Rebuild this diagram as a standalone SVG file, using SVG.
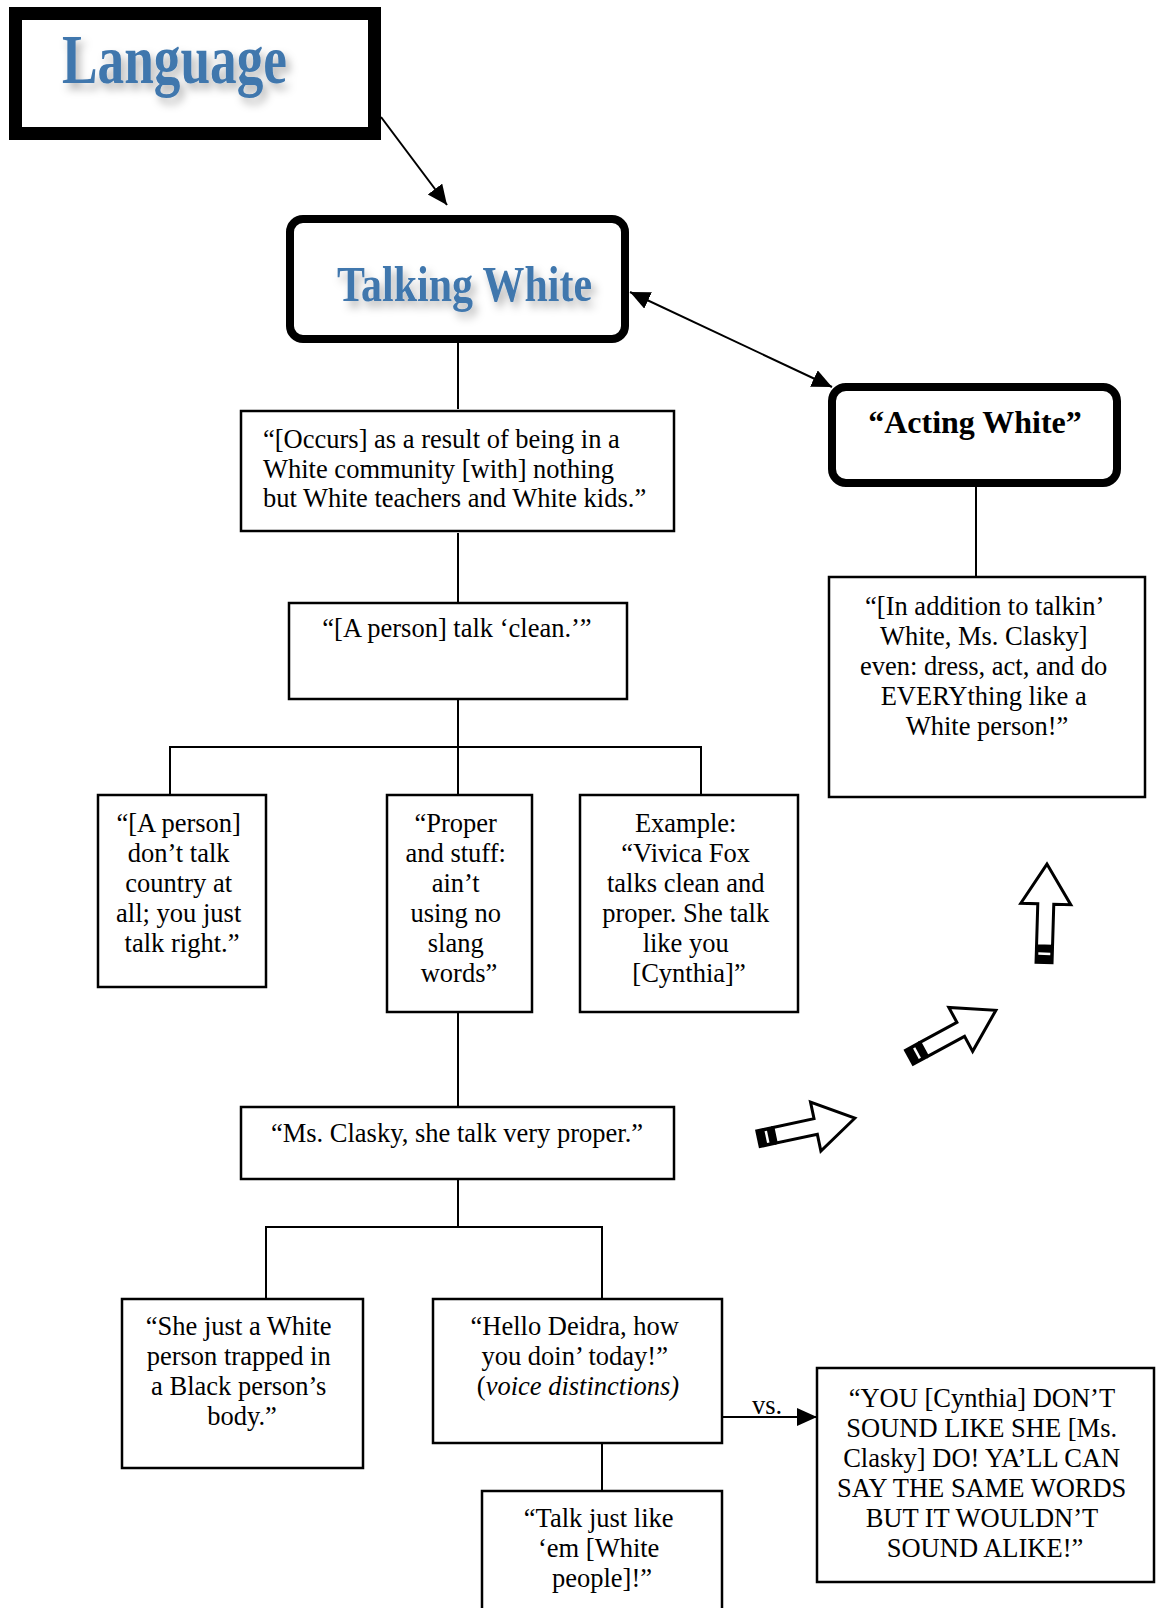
<svg xmlns="http://www.w3.org/2000/svg" xmlns:xlink="http://www.w3.org/1999/xlink" width="1156" height="1608" viewBox="0 0 1156 1608">
  <style>
    .box { fill: #fff; stroke: #000; stroke-width: 2.5; }
    .thick { fill: #fff; stroke: #000; stroke-width: 8; }
    .wire { fill: none; stroke: #000; stroke-width: 2; }
    .t { font-family: "Liberation Serif", "Times New Roman", serif; font-size: 26.5px; fill: #000; }
    .c { text-anchor: middle; }
    .title { font-family: "Liberation Serif", "Times New Roman", serif; font-size: 32px; font-weight: bold; fill: #000; }
    .head { font-family: "Liberation Serif", "Times New Roman", serif; font-weight: bold; fill: #4077AD; }
    .blk { fill: #fff; stroke: #000; stroke-width: 3; stroke-linejoin: miter; }
  </style>
  <defs>
    <filter id="shadow" x="-10%" y="-20%" width="130%" height="160%">
      <feDropShadow dx="4" dy="6" stdDeviation="4" flood-color="#000" flood-opacity="0.3"/>
    </filter>
    <marker id="tip" markerUnits="userSpaceOnUse" markerWidth="22" markerHeight="20" refX="20" refY="9" orient="auto-start-reverse">
      <path d="M0,0 L20,9 L0,18 Z" fill="#000"/>
    </marker>
    <!-- striped block arrow, tail at origin, pointing along +x -->
    <g id="striped">
      <rect x="0" y="-9.5" width="18" height="19" fill="#000"/>
      <rect x="9" y="-6" width="2.5" height="12" fill="#fff"/>
      <path class="blk" d="M18,-8 L60,-8 L60,-25 L100,0 L60,25 L60,8 L18,8 Z"/>
    </g>
  </defs>
  <rect width="1156" height="1608" fill="#fff"/>

  <g id="connectors">
    <line class="wire" x1="381" y1="117" x2="447" y2="205" marker-end="url(#tip)"/>
    <line class="wire" x1="630" y1="292" x2="832" y2="387" marker-start="url(#tip)" marker-end="url(#tip)"/>
    <line class="wire" x1="458" y1="343" x2="458" y2="409"/>
    <line class="wire" x1="458" y1="533" x2="458" y2="603"/>
    <path class="wire" d="M458,699 V795 M170,795 V747 H701 V795"/>
    <line class="wire" x1="458" y1="1012" x2="458" y2="1107"/>
    <path class="wire" d="M458,1179 V1227 M266,1299 V1227 H602 V1299"/>
    <line class="wire" x1="602" y1="1443" x2="602" y2="1491"/>
    <line class="wire" x1="976" y1="487" x2="976" y2="577"/>
    <line class="wire" x1="722" y1="1417" x2="817" y2="1417" marker-end="url(#tip)"/>
    <text class="t" x="752" y="1414">vs.</text>
    <use xlink:href="#striped" transform="translate(757,1139) rotate(-12)"/>
    <use xlink:href="#striped" transform="translate(908,1058) rotate(-28.5)"/>
    <use xlink:href="#striped" transform="translate(1044,964) rotate(-88.3)"/>
  </g>

  <g id="language">
    <rect x="15.5" y="13.5" width="359" height="120" fill="#fff" stroke="#000" stroke-width="13"/>
    <text class="head" x="62" y="83" font-size="69" textLength="225" lengthAdjust="spacingAndGlyphs" filter="url(#shadow)">Language</text>
  </g>

  <g id="talking-white">
    <rect class="thick" x="290" y="219" width="335" height="120" rx="13"/>
    <text class="head" x="337" y="301" font-size="50" textLength="255" lengthAdjust="spacingAndGlyphs" filter="url(#shadow)">Talking White</text>
  </g>

  <g id="acting-white">
    <rect class="thick" x="832" y="387" width="285" height="96" rx="14"/>
    <text class="title c" x="975" y="433">“Acting White”</text>
  </g>

  <g id="acting-quote">
    <rect class="box" x="829" y="577" width="316" height="220" stroke-width="3"/>
    <text class="t c">
      <tspan x="987" y="615">“[In addition to talkin’</tspan>
      <tspan x="987" y="645">White, Ms. Clasky]</tspan>
      <tspan x="987" y="675">even: dress, act, and do</tspan>
      <tspan x="987" y="705">EVERYthing like a</tspan>
      <tspan x="987" y="735">White person!”</tspan>
    </text>
  </g>

  <g id="occurs">
    <rect class="box" x="241" y="411" width="433" height="120" stroke-width="4"/>
    <text class="t">
      <tspan x="263" y="448">“[Occurs] as a result of being in a</tspan>
      <tspan x="263" y="478">White community [with] nothing</tspan>
      <tspan x="263" y="507">but White teachers and White kids.”</tspan>
    </text>
  </g>

  <g id="talk-clean">
    <rect class="box" x="289" y="603" width="338" height="96"/>
    <text class="t c" x="457" y="637">“[A person] talk ‘clean.’”</text>
  </g>

  <g id="talk-right">
    <rect class="box" x="98" y="795" width="168" height="192"/>
    <text class="t c">
      <tspan x="182" y="832">“[A person]</tspan>
      <tspan x="182" y="862">don’t talk</tspan>
      <tspan x="182" y="892">country at</tspan>
      <tspan x="182" y="922">all; you just</tspan>
      <tspan x="182" y="952">talk right.”</tspan>
    </text>
  </g>

  <g id="no-slang">
    <rect class="box" x="387" y="795" width="145" height="217"/>
    <text class="t c">
      <tspan x="459" y="832">“Proper</tspan>
      <tspan x="459" y="862">and stuff:</tspan>
      <tspan x="459" y="892">ain’t</tspan>
      <tspan x="459" y="922">using no</tspan>
      <tspan x="459" y="952">slang</tspan>
      <tspan x="459" y="982">words”</tspan>
    </text>
  </g>

  <g id="vivica">
    <rect class="box" x="580" y="795" width="218" height="217"/>
    <text class="t c">
      <tspan x="689" y="832">Example:</tspan>
      <tspan x="689" y="862">“Vivica Fox</tspan>
      <tspan x="689" y="892">talks clean and</tspan>
      <tspan x="689" y="922">proper. She talk</tspan>
      <tspan x="689" y="952">like you</tspan>
      <tspan x="689" y="982">[Cynthia]”</tspan>
    </text>
  </g>

  <g id="clasky">
    <rect class="box" x="241" y="1107" width="433" height="72"/>
    <text class="t c" x="457" y="1142">“Ms. Clasky, she talk very proper.”</text>
  </g>

  <g id="trapped">
    <rect class="box" x="122" y="1299" width="241" height="169"/>
    <text class="t c">
      <tspan x="242" y="1335">“She just a White</tspan>
      <tspan x="242" y="1365">person trapped in</tspan>
      <tspan x="242" y="1395">a Black person’s</tspan>
      <tspan x="242" y="1425">body.”</tspan>
    </text>
  </g>

  <g id="hello">
    <rect class="box" x="433" y="1299" width="289" height="144"/>
    <text class="t c">
      <tspan x="578" y="1335">“Hello Deidra, how</tspan>
      <tspan x="578" y="1365">you doin’ today!”</tspan>
      <tspan x="578" y="1395">(<tspan font-style="italic">voice distinctions)</tspan></tspan>
    </text>
  </g>

  <g id="talk-like">
    <rect class="box" x="482" y="1491" width="240" height="140"/>
    <text class="t c">
      <tspan x="602" y="1527">“Talk just like</tspan>
      <tspan x="602" y="1557">‘em [White</tspan>
      <tspan x="602" y="1587">people]!”</tspan>
    </text>
  </g>

  <g id="sound-alike">
    <rect class="box" x="817" y="1368" width="337" height="214"/>
    <text class="t c">
      <tspan x="985" y="1407">“YOU [Cynthia] DON’T</tspan>
      <tspan x="985" y="1437">SOUND LIKE SHE [Ms.</tspan>
      <tspan x="985" y="1467">Clasky] DO! YA’LL CAN</tspan>
      <tspan x="985" y="1497">SAY THE SAME WORDS</tspan>
      <tspan x="985" y="1527">BUT IT WOULDN’T</tspan>
      <tspan x="985" y="1557">SOUND ALIKE!”</tspan>
    </text>
  </g>
</svg>
